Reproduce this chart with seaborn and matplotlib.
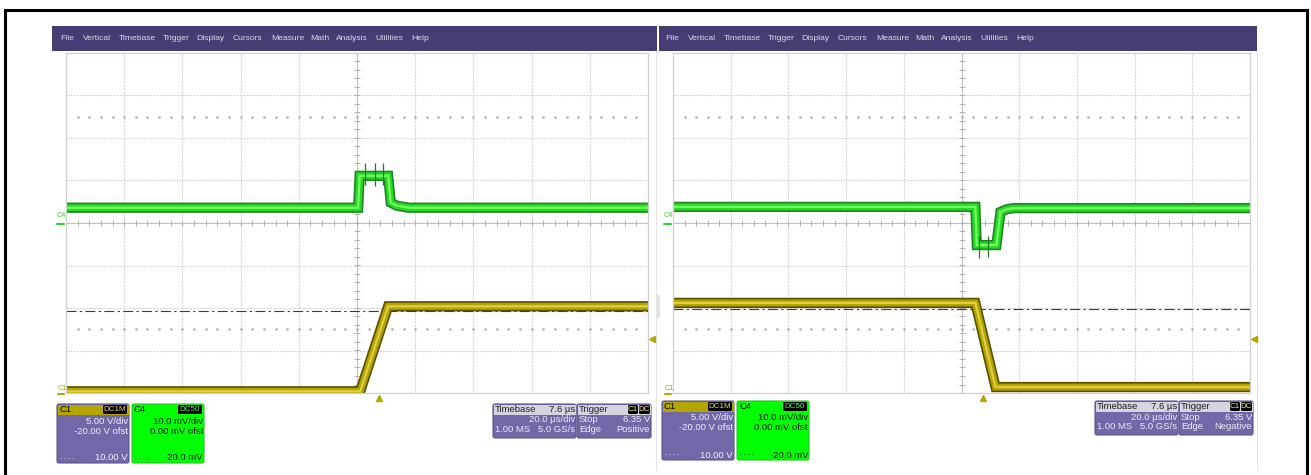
import numpy as np
import pandas as pd
import seaborn as sns
import matplotlib
matplotlib.use("Agg")
from matplotlib import pyplot as plt
from matplotlib.patches import FancyBboxPatch, Rectangle

# ---- valores (tiempo en us desde el trigger) ----
t_span = [-107.6, 92.4]          # 20 us/div, retardo 7.6 us

# captura izquierda (flanco positivo)
left_c4_t = [-107.6, -7.2, -6.7, 3.1, 4.0, 6.0, 10.0, 92.4]
left_c4_mv = [3.6, 3.6, 11.1, 11.1, 4.8, 4.1, 3.6, 3.6]
left_c4_spike_t = [-4.8, -1.4, 1.4]
left_c4_spike_hi = [14.2, 14.2, 14.0]
left_c4_spike_lo = [9.0, 8.8, 9.0]
left_c1_t = [-107.6, -6.5, 3.1, 92.4]
left_c1_v = [0.2, 0.2, 10.2, 10.2]
left_cursor_v = 9.6

# captura derecha (flanco negativo)
right_c4_t = [-107.6, -2.8, -2.3, 4.5, 5.9, 8.0, 10.4, 92.4]
right_c4_mv = [3.8, 3.8, -5.2, -5.2, 2.6, 3.2, 3.5, 3.5]
right_c4_spike_t = [-1.4, 1.7]
right_c4_spike_hi = [-3.0, -3.0]
right_c4_spike_lo = [-8.3, -8.0]
right_c1_t = [-107.6, -2.8, 4.2, 92.4]
right_c1_v = [10.6, 10.6, 0.7, 0.7]
right_cursor_v = 9.9

trigger_level_v = 6.35
c1_scale, c1_offset = 5.0, -20.0    # V/div, V
c4_scale, c4_offset = 10.0, 0.0     # mV/div, mV

menu_items = ["File", "Vertical", "Timebase", "Trigger", "Display", "Cursors",
              "Measure", "Math", "Analysis", "Utilities", "Help"]
menu_x = [60, 83, 119, 163, 196, 233, 271, 310, 336, 375, 411]

W, H = 1311, 475
PURPLE = "#463b73"
BOX = "#7268a8"
YEL = "#b5a500"
GRN = "#00ff00"

sns.set_theme(style="white")
plt.rcParams["font.family"] = ["Liberation Sans", "DejaVu Sans"]

fig = plt.figure(figsize=(W / 100, H / 100), dpi=100)
fig.patch.set_facecolor("white")

# capa de fondo en pixeles
ov = fig.add_axes([0, 0, 1, 1], zorder=0)
ov.set_xlim(0, W)
ov.set_ylim(H, 0)
ov.axis("off")


def box(x, y, w, h, fc, ec=None, r=2, lw=0.8):
    ov.add_patch(FancyBboxPatch((x, y), w, h, boxstyle=f"round,pad=0,rounding_size={r}",
                                fc=fc, ec=ec if ec else fc, lw=lw))


def txt(x, y, s, color="white", ha="left", size=6.8, **kw):
    ov.text(x, y, s, color=color, ha=ha, va="center", fontsize=size, **kw)


def badge(x, y, w, s, color):
    box(x, y, w, 9, "black", r=1.5, lw=0)
    txt(x + w / 2, y + 4.6, s, color=color, ha="center", size=5.8)


def chan_box(x, y, name, head, fc, tc, badge_txt, badge_col, l1, l2, l3):
    w, h = 72, 59
    box(x, y, w, h, fc, ec="#5c5590" if fc == BOX else "#2fbf2f")
    ov.add_patch(Rectangle((x + 0.5, y + 0.5), w - 1, 10, fc=head, lw=0))
    txt(x + 2, y + 5.5, name, color="black")
    badge(x + w - 26, y + 1, 24, badge_txt, badge_col)
    txt(x + w - 1, y + 17, l1, color=tc, ha="right")
    txt(x + w - 1, y + 27, l2, color=tc, ha="right")
    txt(x + 3, y + h - 5, "- - - -", color=tc, size=4.5)
    txt(x + w - 1, y + h - 5, l3, color=tc, ha="right")


def time_box(x, y, edge):
    w, h = 83, 34
    box(x, y, w, h, BOX, ec="#5c5590")
    ov.add_patch(Rectangle((x + 0.5, y + 0.5), w - 1, 10, fc="#d6d4e0", lw=0))
    txt(x + 2, y + 5.5, "Timebase", color="#202020")
    txt(x + w - 1, y + 5.5, "7.6 µs", color="#202020", ha="right")
    txt(x + w - 1, y + 16, "20.0 µs/div", color="#ecebf5", ha="right")
    txt(x + 2, y + 25.5, "1.00 MS", color="#ecebf5")
    txt(x + w - 1, y + 25.5, "5.0 GS/s", color="#ecebf5", ha="right")
    x2, w2 = x + w + 1, 74
    box(x2, y, w2, h, BOX, ec="#5c5590")
    ov.add_patch(Rectangle((x2 + 0.5, y + 0.5), w2 - 1, 10, fc="#d6d4e0", lw=0))
    txt(x2 + 2, y + 5.5, "Trigger", color="#202020")
    badge(x2 + w2 - 23, y + 1, 10, "C1", "#f0e890")
    badge(x2 + w2 - 12, y + 1, 11, "DC", "#f0e890")
    txt(x2 + 2, y + 16, "Stop", color="#ecebf5")
    txt(x2 + w2 - 1, y + 16, "6.35 V", color="#ecebf5", ha="right")
    txt(x2 + 2, y + 25.5, "Edge", color="#ecebf5")
    txt(x2 + w2 - 1, y + 25.5, edge, color="#ecebf5", ha="right")


def c1_div(v):
    return (np.asarray(v, dtype=float) + c1_offset) / c1_scale


def c4_div(mv):
    return (np.asarray(mv, dtype=float) + c4_offset) / c4_scale


def draw_trace(ax, t, y, cols):
    df = pd.DataFrame({"t": t, "y": y})
    for col, lw in zip(cols, [7.4, 5.0, 1.6]):
        sns.lineplot(data=df, x="t", y="y", ax=ax, color=col, linewidth=lw,
                     estimator=None, sort=False, solid_capstyle="butt",
                     solid_joinstyle="miter")


def scope(x0, x1, menu_rect, menu_off, c4, c1, spikes, cursor_v, edge, boxes):
    # barra de menu
    mx0, mx1 = menu_rect
    ov.add_patch(Rectangle((mx0, 26), mx1 - mx0, 25, fc=PURPLE, lw=0))
    for s, mx in zip(menu_items, menu_x):
        txt(mx + menu_off, 38.5, s, color="#dcdae8", size=6.1)

    ax = fig.add_axes([x0 / W, 1 - 393 / H, (x1 - x0) / W, (393 - 53) / H], zorder=2)
    ax.set_xlim(*t_span)
    ax.set_ylim(-4, 4)
    ax.set_xticks([])
    ax.set_yticks([])
    for sp in ax.spines.values():
        sp.set_color("#cfcfcf")
        sp.set_linewidth(0.9)

    # reticula
    for k in range(1, 10):
        ax.axvline(t_span[0] + 20 * k, color="#d6d6d6", lw=0.8, ls=(0, (2, 1)), zorder=0)
    for k in range(-3, 4):
        ax.axhline(k, color="#d6d6d6", lw=0.8, ls=(0, (2, 1)), zorder=0)
    tc = t_span[0] + 100
    ax.axvline(tc, color="#c0c0c0", lw=0.8, zorder=0)
    ax.axhline(0, color="#c0c0c0", lw=0.8, zorder=0)
    ticks_y = np.arange(-3.8, 3.9, 0.2)
    ax.plot(np.full(ticks_y.size, tc), ticks_y, ls="none", marker="_", ms=4, mew=0.7,
            color="#b0b0b0", zorder=0)
    ticks_t = np.arange(t_span[0] + 4, t_span[1] - 1, 4)
    ax.plot(ticks_t, np.zeros(ticks_t.size), ls="none", marker="|", ms=4, mew=0.7,
            color="#b0b0b0", zorder=0)
    for yy in (2.5, -2.5):
        ax.plot(ticks_t, np.full(ticks_t.size, yy), ls="none", marker="s", ms=0.8,
                color="#b0b0b0", zorder=0)

    # cursor
    ax.axhline(c1_div(cursor_v), color="#3a3a3a", lw=0.8, ls=(0, (9, 3, 2, 3)), zorder=1)

    # trazas
    draw_trace(ax, c4[0], c4_div(c4[1]), ["#25822a", "#22dc22", "#78ff62"])
    st, hi, lo = spikes
    ax.vlines(st, c4_div(lo), c4_div(hi), color="#1f7a1f", lw=0.9, zorder=3)
    draw_trace(ax, c1[0], c1_div(c1[1]), ["#585000", "#b5a400", "#ddd040"])

    # marcadores
    yt = ax.get_yaxis_transform()
    ax.text(-0.016, 0.17, "C4", transform=yt, color="#2ed12e", fontsize=5.2,
            ha="left", va="center", clip_on=False)
    ax.plot([-0.016, -0.003], [-0.03, -0.03], transform=yt, color="#2ed12e", lw=1.5,
            clip_on=False)
    ax.text(-0.014, c1_div(0) + 0.11, "C1", transform=yt, color=YEL, fontsize=5.2,
            ha="left", va="center", clip_on=False)
    ax.plot([-0.014, -0.003], [c1_div(0) - 0.02] * 2, transform=yt, color=YEL, lw=1.5,
            clip_on=False)
    ax.plot([1.007], [c1_div(trigger_level_v)], transform=yt, marker="<", ms=4.5,
            color=YEL, clip_on=False)
    xt = ax.get_xaxis_transform()
    ax.plot([0.0], [-0.014], transform=xt, marker="^", ms=4.5, color=YEL, clip_on=False)

    # cuadros de informacion
    cx, cy, tx, ty = boxes
    chan_box(cx, cy, "C1", YEL, BOX, "#f2f1f8", "DC1M", "#e8d860",
             "5.00 V/div", "-20.00 V ofst", "10.00 V")
    chan_box(cx + 75, cy, "C4", GRN, GRN, "#101010", "DC50", "#40ff40",
             "10.0 mV/div", "0.00 mV ofst", "-20.0 mV")
    time_box(tx, ty, edge)
    return ax


scope(66, 648, (52, 657), 0, (left_c4_t, left_c4_mv), (left_c1_t, left_c1_v),
      (left_c4_spike_t, left_c4_spike_hi, left_c4_spike_lo), left_cursor_v,
      "Positive", (57, 404, 493, 404))
scope(673, 1250, (659, 1257), 605, (right_c4_t, right_c4_mv), (right_c1_t, right_c1_v),
      (right_c4_spike_t, right_c4_spike_hi, right_c4_spike_lo), right_cursor_v,
      "Negative", (662, 401, 1095, 401))

# separadores y marco exterior
ov.plot([656, 656], [51, 470], color="#e4e4e4", lw=0.8)
ov.plot([1257, 1257], [51, 470], color="#e4e4e4", lw=0.8)
ov.add_patch(Rectangle((657, 295), 3, 23, fc="#e2e2e2", lw=0))
ov.plot([4.5, 4.5, 1306.5, 1306.5], [H, 9.5, 9.5, H], color="black", lw=2.2,
        solid_joinstyle="miter", clip_on=False)

fig.savefig("out.png", dpi=100)
